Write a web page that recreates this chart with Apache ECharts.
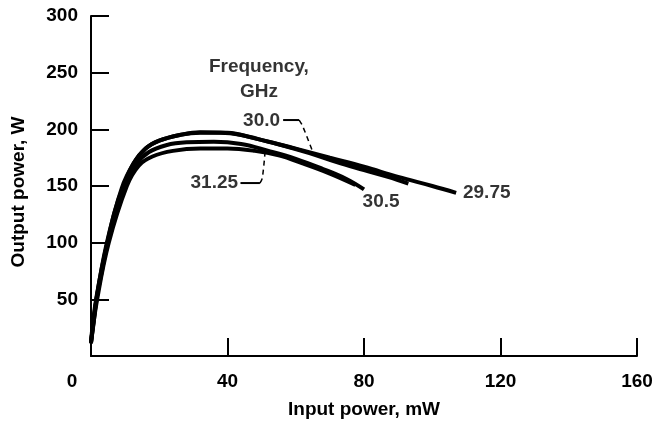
<!DOCTYPE html>
<html>
<head>
<meta charset="utf-8">
<script src="https://cdn.jsdelivr.net/npm/echarts@6/dist/echarts.min.js"></script>
<style>
  html, body { margin: 0; padding: 0; background: #fff; }
  #chart { width: 656px; height: 425px; }
</style>
</head>
<body>
<div id="chart"></div>
<script>
// Output power (W) versus input power (mW) at several drive frequencies
const xTicks = [0, 40, 80, 120, 160];
const yTicks = [0, 50, 100, 150, 200, 250, 300];

const freqNames = ['29.75', '30.0', '30.5', '31.25'];

const curve2975 = [
  [0, 12], [0.8, 30], [1.6, 50], [3.2, 75], [4.8, 100], [7, 128], [9.5, 150],
  [12.5, 170], [16, 183], [20, 190], [26, 195], [32, 197], [38, 197], [44, 195],
  [52, 189], [60, 183], [70, 175], [80, 167], [90, 158], [100, 150], [107, 144]
];
const curve300 = [
  [0, 11], [1.5, 48], [4.5, 98], [9, 148], [12.5, 170], [16, 183], [20, 190],
  [26, 195], [32, 197.5], [40, 197], [48, 192], [56, 186], [64, 179], [72, 171],
  [80, 164], [87, 158], [93, 152]
];
const curve305 = [
  [0, 13], [1.6, 52], [5, 102], [10, 150], [13.5, 170], [17, 180], [22, 186],
  [28, 188.5], [36, 189], [44, 187], [52, 181], [60, 174], [68, 165], [75, 156], [80, 147]
];
const curve3125 = [
  [0, 12], [1.8, 50], [5.2, 100], [10.5, 150], [14, 168], [18, 176], [24, 181],
  [32, 183], [40, 183], [48, 181], [55, 177], [62, 170], [70, 161], [77.5, 151]
];
const curves = [curve2975, curve300, curve305, curve3125];

// Callout text: [x, y, text, alignment]
const notes = [
  [49.2, 255, 'Frequency,', 'center'],
  [49.2, 233.5, 'GHz', 'center'],
  [55.4, 208, '30.0', 'right'],
  [43.1, 152.6, '31.25', 'right'],
  [85, 136, '30.5', 'center'],
  [109, 143.8, '29.75', 'left']
];
// Leader lines: solid stub, then dashed drop to the curve
const leaderSolid = [
  [[56.3, 208.2], [61, 208.2]],
  [[43.8, 152.6], [49.5, 152.6]]
];
const leaderDashed = [
  [[61, 208.2], [62, 203], [65, 180]],
  [[49.5, 152.6], [50.2, 157], [51, 180]]
];

const FONT = 'Liberation Sans, Arial, Helvetica, sans-serif';
const ink = '#000';
const FS = 19;

const series = [];
curves.forEach((pts, i) => {
  series.push({
    name: freqNames[i], type: 'line', data: pts, smooth: 0.4, showSymbol: false,
    lineStyle: { color: ink, width: 4 }, z: 3
  });
});
leaderSolid.forEach(pts => series.push({
  type: 'line', data: pts, showSymbol: false, lineStyle: { color: ink, width: 2 }, z: 4
}));
leaderDashed.forEach(pts => series.push({
  type: 'line', data: pts, showSymbol: false, smooth: 0.3,
  lineStyle: { color: ink, width: 1.5, type: [5, 4] }, z: 4
}));
series.push({
  type: 'scatter', symbolSize: 0, z: 5,
  data: notes.map(n => ({
    value: [n[0], n[1]],
    label: { show: true, position: 'inside', formatter: n[2], align: n[3], verticalAlign: 'middle' }
  })),
  label: { color: ink, fontFamily: FONT, fontWeight: 'bold', fontSize: FS }
});

const chart = echarts.init(document.getElementById('chart'), null, { renderer: 'canvas' });
chart.setOption({
  backgroundColor: '#fff',
  animation: false,
  grid: { left: 91, right: 19, top: 16, bottom: 69 },
  xAxis: {
    type: 'value', min: xTicks[0], max: xTicks[xTicks.length - 1], interval: 40,
    name: 'Input power, mW', nameLocation: 'middle', nameGap: 44,
    nameTextStyle: { color: ink, fontFamily: FONT, fontWeight: 'bold', fontSize: FS },
    axisLine: { show: true, lineStyle: { color: ink, width: 2 } },
    axisTick: { show: true, inside: true, length: 18, lineStyle: { color: ink, width: 2 } },
    splitLine: { show: false },
    axisLabel: {
      color: ink, fontFamily: FONT, fontWeight: 'bold', fontSize: FS, margin: 16,
      formatter: v => (v === 0 ? '{o|0}' : String(v)),
      rich: { o: { padding: [0, 38, 0, 0], color: ink, fontFamily: FONT, fontWeight: 'bold', fontSize: FS } }
    }
  },
  yAxis: {
    type: 'value', min: yTicks[0], max: yTicks[yTicks.length - 1], interval: 50,
    name: 'Output power, W', nameLocation: 'middle', nameGap: 63, nameRotate: 90,
    nameTextStyle: { color: ink, fontFamily: FONT, fontWeight: 'bold', fontSize: FS, padding: [0, 12, 0, 0] },
    axisLine: { show: true, lineStyle: { color: ink, width: 2 } },
    axisTick: { show: true, inside: true, length: 18, lineStyle: { color: ink, width: 2 } },
    splitLine: { show: false },
    axisLabel: {
      color: ink, fontFamily: FONT, fontWeight: 'bold', fontSize: FS, margin: 13,
      formatter: v => (v === 0 ? '' : String(v))
    }
  },
  series
});
</script>
</body>
</html>
